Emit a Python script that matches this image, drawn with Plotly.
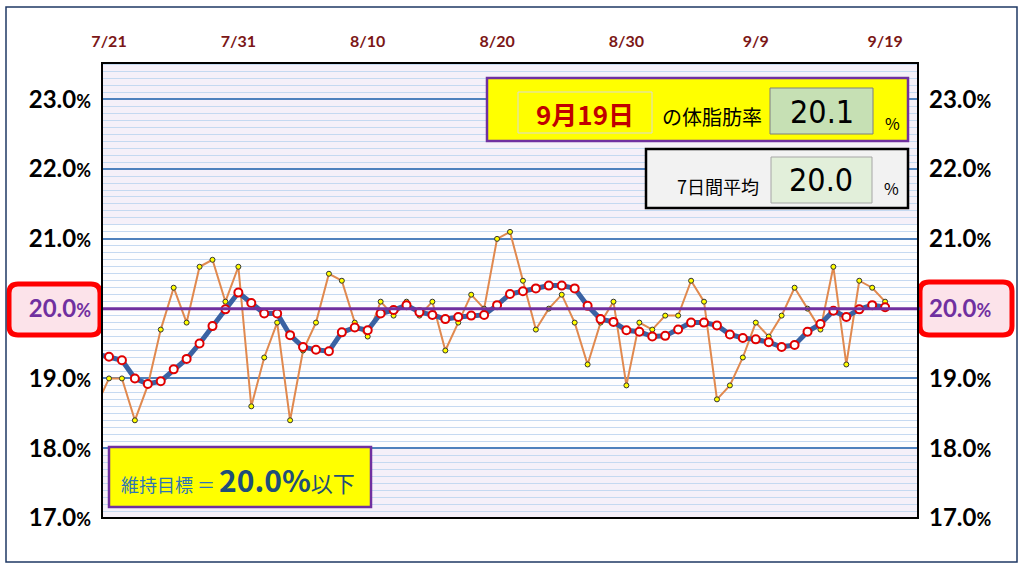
import pandas as pd
import plotly.graph_objects as go

# --- data -------------------------------------------------------------
dates = pd.date_range("2022-07-20", "2022-09-19", freq="D")

body_fat = [
    18.6,
    19.0, 19.0, 18.4, 18.9, 19.7, 20.3, 19.8, 20.6, 20.7, 20.1, 20.6,
    18.6, 19.3, 19.8, 18.4, 19.4, 19.8, 20.5, 20.4, 19.8, 19.6,
    20.1, 19.9, 20.1, 19.9, 20.1, 19.4, 19.8, 20.2, 20.0, 21.0,
    21.1, 20.4, 19.7, 20.0, 20.2, 19.8, 19.2, 19.8, 20.1, 18.9, 19.8,
    19.7, 19.9, 19.9, 20.4, 20.1, 18.7, 18.9, 19.3, 19.8, 19.6,
    19.9, 20.3, 20.0, 19.7, 20.6, 19.2, 20.4, 20.3, 20.1,
]
avg_7d = [
    19.35,
    19.31, 19.26, 19.00, 18.92, 18.96, 19.13, 19.28, 19.50, 19.75, 19.99, 20.23,
    20.08, 19.93, 19.93, 19.62, 19.45, 19.41, 19.39, 19.66, 19.73, 19.69,
    19.93, 19.98, 20.05, 19.95, 19.91, 19.85, 19.88, 19.90, 19.91, 20.05,
    20.21, 20.25, 20.29, 20.33, 20.33, 20.29, 20.04, 19.85, 19.81, 19.69, 19.67,
    19.60, 19.61, 19.70, 19.80, 19.80, 19.76, 19.63, 19.58, 19.56, 19.52,
    19.45, 19.48, 19.67, 19.78, 19.97, 19.88, 19.99, 20.05, 20.02,
]
x_tick_dates = ["2022-07-21", "2022-07-31", "2022-08-10", "2022-08-20",
                "2022-08-30", "2022-09-09", "2022-09-19"]
x_tick_labels = ["7/21", "7/31", "8/10", "8/20", "8/30", "9/9", "9/19"]
y_ticks = [17, 18, 19, 20, 21, 22, 23]
target = 20.0
latest_label = "9月19日"
latest_value = "20.1"
avg_value = "20.0"

# --- geometry helpers (pixel -> paper) --------------------------------
W, H = 1024, 568
L, R, T, B = 102, 918, 63, 518
NUM_FONT = "DejaVu Sans Condensed, Liberation Sans Narrow, Roboto"


def px(x):
    return (x - L) / (R - L)


def py(y):
    return (B - y) / (B - T)


def rect(x0, y0, x1, y1, fill, line, width=1.5, layer="above"):
    return dict(type="rect", xref="paper", yref="paper",
                x0=px(x0), x1=px(x1), y0=py(y1), y1=py(y0),
                fillcolor=fill, line=dict(color=line, width=width), layer=layer)


def round_rect(x0, y0, x1, y1, r, fill, line, width):
    rx, ry = r / (R - L), r / (B - T)
    a, b, c, d = px(x0), px(x1), py(y1), py(y0)
    path = (f"M{a+rx},{d} L{b-rx},{d} Q{b},{d} {b},{d-ry} L{b},{c+ry} "
            f"Q{b},{c} {b-rx},{c} L{a+rx},{c} Q{a},{c} {a},{c+ry} "
            f"L{a},{d-ry} Q{a},{d} {a+rx},{d} Z")
    return dict(type="path", xref="paper", yref="paper", path=path,
                fillcolor=fill, line=dict(color=line, width=width), layer="below")


def note(x, y, text, size, color="black", family="Noto Sans CJK JP",
         xanchor="center"):
    return dict(xref="paper", yref="paper", x=px(x), y=py(y), text=text,
                showarrow=False, xanchor=xanchor, yanchor="middle",
                font=dict(size=size, color=color, family=family))


def tick_text(v, color="black"):
    return (f"<span style='color:{color}'><b>{v:.1f}</b>"
            f"<span style='font-size:18px'><b>%</b></span></span>")


y_text = [tick_text(v, "#7030a0" if v == target else "black") for v in y_ticks]
x_text = [f"<b>{t}</b>" for t in x_tick_labels]

fig = go.Figure()
fig.add_trace(go.Scatter(
    x=dates, y=body_fat, mode="lines+markers",
    line=dict(color="#e0894f", width=2),
    marker=dict(color="#ffff00", size=5, line=dict(color="#333333", width=1)),
    showlegend=False,
))
fig.add_trace(go.Scatter(
    x=dates, y=avg_7d, mode="lines+markers",
    line=dict(color="#3a62a3", width=5),
    marker=dict(color="white", size=8, line=dict(color="#e00000", width=2)),
    showlegend=False,
))
fig.add_trace(go.Scatter(x=[dates[1]], y=[target], yaxis="y2",
                         mode="markers", marker=dict(opacity=0),
                         showlegend=False, hoverinfo="skip"))

shapes = [
    # background band
    dict(type="rect", xref="x domain", yref="y", x0=0, x1=1, y0=18.0, y1=21.2,
         fillcolor="#fdfdfe", line=dict(width=0), layer="below"),
    # target line
    dict(type="line", xref="x domain", yref="y", x0=0, x1=1.003, y0=target, y1=target,
         line=dict(color="#7030a0", width=3)),
    # plot frame
    dict(type="rect", xref="paper", yref="paper", x0=0, x1=1, y0=0, y1=1,
         line=dict(color="black", width=2)),
    # outer border
    rect(6, 7, 1017, 562, "rgba(0,0,0,0)", "#1f3864", 1.5),
    # red 20% boxes
    round_rect(9, 284, 100, 335, 9, "#fce3ea", "#ff0000", 5),
    round_rect(920, 282, 1012, 335, 9, "#fce3ea", "#ff0000", 5),
    # top info box
    rect(487, 78, 908, 141, "#ffff00", "#7030a0", 2.5),
    rect(518, 92, 652, 133, "#ffff00", "#d9d9d9", 1),
    rect(770, 88, 873, 134, "#c6e0b4", "#7f7f7f", 1),
    rect(646, 149, 908, 208, "#f2f2f2", "black", 2.5),
    rect(771, 157, 872, 203, "#e2efda", "#a6a6a6", 1),
    # target box
    rect(109, 447, 371, 507, "#ffff00", "#7030a0", 2.5),
]

annotations = [
    note(585, 113, f"<b>{latest_label}</b>", 26, "#c00000"),
    note(712, 116, "の体脂肪率", 20),
    note(822, 112, latest_value, 32, family=NUM_FONT),
    note(892, 123, "%", 16),
    note(718, 186, "7日間平均", 18),
    note(821, 180, avg_value, 32, family=NUM_FONT),
    note(891, 188, "%", 16),
    note(238, 479,
         "維持目標 ＝ <span style='font-size:30px;color:#1f4e79'><b>20.0%</b></span>"
         "<span style='font-size:22px;color:#1f4e79'>以下</span>",
         18, "#2e75b6"),
]

fig.update_layout(
    width=W, height=H,
    margin=dict(l=L, r=W - R, t=T, b=H - B, pad=0),
    paper_bgcolor="white",
    plot_bgcolor="#f5f0f9",
    font=dict(family="Lato, Open Sans, sans-serif"),
    shapes=shapes,
    annotations=annotations,
    xaxis=dict(
        type="date", side="top",
        range=["2022-07-20 11:00", "2022-09-21 13:00"],
        tickvals=x_tick_dates, ticktext=x_text,
        tickfont=dict(size=16, color="#7b1616", family="Lato"),
        ticks="", ticklabelstandoff=12,
        showgrid=False, zeroline=False, showline=False,
    ),
    yaxis=dict(
        range=[17, 23.52], tickvals=y_ticks, ticktext=y_text,
        tickfont=dict(size=24, color="black", family="Lato"),
        ticks="", ticklabelstandoff=10,
        showgrid=True, gridcolor="#4f81bd", gridwidth=1.5,
        minor=dict(dtick=0.1, showgrid=True, gridcolor="#c5d9f1", gridwidth=1),
        zeroline=False, showline=False,
    ),
    yaxis2=dict(
        overlaying="y", side="right",
        range=[17, 23.52], tickvals=y_ticks, ticktext=y_text,
        tickfont=dict(size=24, color="black", family="Lato"),
        ticks="", ticklabelstandoff=10,
        showgrid=False, zeroline=False, showline=False,
    ),
)

fig.write_html("out.html", config={"displayModeBar": False},
               post_script="document.body.style.margin='0';"
                           "document.body.style.overflow='hidden';")
